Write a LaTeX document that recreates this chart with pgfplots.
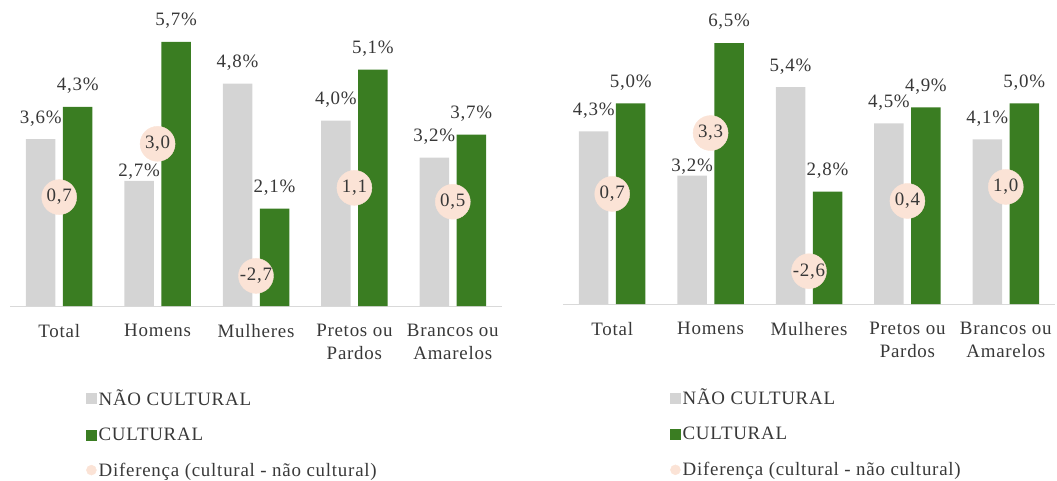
\documentclass[border=0pt]{standalone}
\usepackage{pgfplots}
\pgfplotsset{compat=1.18}
\usepackage{fontspec}
\setmainfont[LetterSpace=4]{Liberation Serif}
\definecolor{nc}{HTML}{D4D4D4}
\definecolor{cu}{HTML}{3A7D22}
\definecolor{df}{HTML}{FBE3D6}
\definecolor{txt}{HTML}{383838}
\definecolor{axl}{HTML}{D9D9D9}
\pgfplotsset{
 numfmt/.style={
  /pgf/number format/use comma,
  /pgf/number format/fixed,
  /pgf/number format/fixed zerofill,
  /pgf/number format/precision=1,
  /pgf/number format/assume math mode=true,
 },
 panel/.style={
  scale only axis, width=492bp, anchor=south west,
  xmin=-0.5, xmax=4.5, ymin=0,
  axis x line=bottom, axis y line=none,
  axis line style={draw=axl, line width=1bp, -},
  xtick={0,...,4}, major tick length=0pt,
  xticklabels={Total,Homens,Mulheres,Pretos ou\\Pardos,Brancos ou\\Amarelos},
  xticklabel style={align=center, text=txt, yshift=-15bp, font=\fontsize{19}{23}\selectfont},
  ytick=\empty,
  numfmt,
  legend style={draw=none, fill=none, anchor=north west, inner sep=0pt, row sep=17bp, text=txt, font=\fontsize{19}{23}\selectfont},
  legend cell align=left,
  clip=false,
 },
 diff/.style={
  scale only axis, width=492bp, anchor=south west,
  xmin=-0.5, xmax=4.5, ymin=-4, ymax=8, hide axis, clip=false, numfmt,
 },
 barlab/.style={
   nodes near coords={\pgfmathprintnumber{\pgfplotspointmeta}\%}, point meta=y,
   visualization depends on={value \thisrow{s} \as \lshift},
   every node near coord/.append style={text=txt, inner sep=2bp, yshift=\lshift bp, font=\fontsize{19}{23}\selectfont}},
 ncbar/.style={ybar, bar width=29.5bp, bar shift=-18.5bp, fill=nc, draw=none, forget plot, barlab,
   every node near coord/.append style={xshift=-18.5bp}},
 cubar/.style={ybar, bar width=29.5bp, bar shift=18.5bp, fill=cu, draw=none, forget plot, barlab,
   every node near coord/.append style={xshift=18.5bp}},
 dfplot/.style={only marks, color=df, mark=*, mark size=17.5bp, mark options={fill=df, draw=df},
   point meta=y, nodes near coords, nodes near coords align={center},
   every node near coord/.append style={text=txt, anchor=center, font=\fontsize{19}{23}\selectfont}},
}
\begin{document}
\begin{tikzpicture}[font=\fontsize{19}{23}\selectfont]
\useasboundingbox (0,0) rectangle (1057bp,481bp);
% left panel
\begin{axis}[panel, at={(10bp,175bp)}, height=278bp, ymax=6,
  legend style={at={(0.1545,-0.292)}}]
\addplot[ncbar] table {
x y s
0 3.6 11
1 2.7 -1
2 4.8 11
3 4.0 11
4 3.2 11
};
\addplot[cubar] table {
x y s
0 4.3 11
1 5.7 11
2 2.1 11
3 5.1 11
4 3.7 11
};
\addlegendimage{legend image code/.code={\fill[nc] (0bp,-5bp) rectangle (10bp,5bp);}}
\addlegendentry{NÃO CULTURAL}
\addlegendimage{legend image code/.code={\fill[cu] (0bp,-5bp) rectangle (10bp,5bp);}}
\addlegendentry{CULTURAL}
\addlegendimage{legend image code/.code={\fill[df] (5bp,0bp) circle (5bp);}}
\addlegendentry{Diferença (cultural - não cultural)}
\end{axis}
\begin{axis}[diff, at={(10bp,175bp)}, height=278bp]
\addplot[dfplot] coordinates {(0,0.7) (1,3.0) (2,-2.7) (3,1.1) (4,0.5)};
\end{axis}
% right panel
\begin{axis}[panel, at={(563bp,177bp)}, height=281bp, ymax=7,
  legend style={at={(0.2175,-0.295)}}]
\addplot[ncbar] table {
x y s
0 4.3 11
1 3.2 -1
2 5.4 11
3 4.5 11
4 4.1 11
};
\addplot[cubar] table {
x y s
0 5.0 11
1 6.5 11
2 2.8 11
3 4.9 11
4 5.0 11
};
\addlegendimage{legend image code/.code={\fill[nc] (0bp,-5bp) rectangle (10bp,5bp);}}
\addlegendentry{NÃO CULTURAL}
\addlegendimage{legend image code/.code={\fill[cu] (0bp,-5bp) rectangle (10bp,5bp);}}
\addlegendentry{CULTURAL}
\addlegendimage{legend image code/.code={\fill[df] (5bp,0bp) circle (5bp);}}
\addlegendentry{Diferença (cultural - não cultural)}
\end{axis}
\begin{axis}[diff, at={(563bp,177bp)}, height=281bp]
\addplot[dfplot] coordinates {(0,0.7) (1,3.3) (2,-2.6) (3,0.4) (4,1.0)};
\end{axis}
\end{tikzpicture}
\end{document}
